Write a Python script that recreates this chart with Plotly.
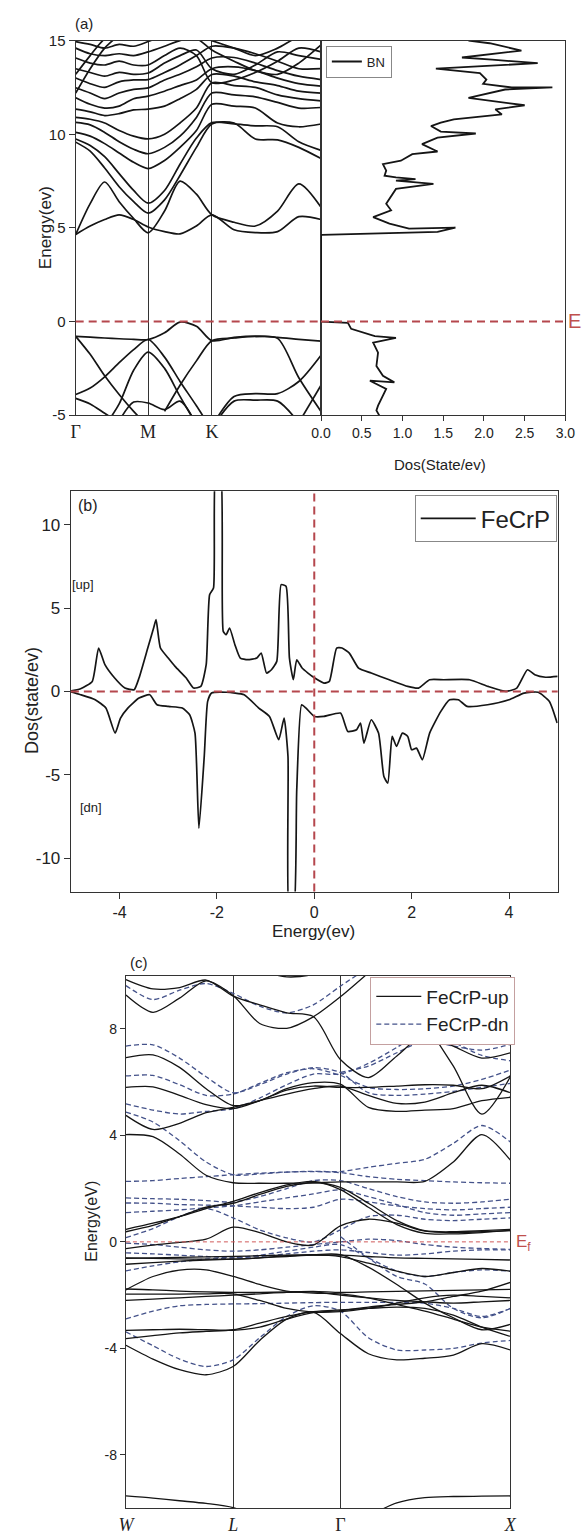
import plotly.graph_objects as go

# ---------------- (a) BN: band structure along Γ-M-K-Γ ----------------
BN_K = [0, 0.15, 0.30, 0.45, 0.60, 0.75, 0.92, 1.08, 1.25, 1.41, 1.64, 1.86, 2.09, 2.31, 2.54]
BN_KPOINTS = [0, 0.75, 1.41]
BN_KLABELS = ["Γ", "M", "K"]
BN_ETICKS = [-5, 0, 5, 10, 15]
BN_ETICKTEXT = ["-5", "0", "5", "10", "15"]
BN_DOSTICKS = [0, 0.5, 1.0, 1.5, 2.0, 2.5, 3.0]

BN_BANDS = [
    # valence bands
    [-0.79, -0.83, -0.88, -0.92, -0.95, -0.96, -0.6, -0.03, -0.25, -1.02, -0.85, -0.78, -0.85, -0.95, -1.05],
    [-0.79, -1.75, -2.9, -3.9, -4.8, -5.6, None, None, None, None, None, None, None, None, None],
    [-3.9, -3.55, -2.95, -2.2, -1.5, -0.96, -1.9, -3.2, -4.5, -5.8, None, None, None, None, None],
    [-4.1, -4.4, -4.9, -5.4, None, None, None, None, None, None, None, None, None, None, None],
    [None, None, -5.6, -4.4, -2.6, -1.63, -2.5, -4.0, -5.5, None, None, None, None, None, None],
    [None, None, None, None, None, None, -4.8, -3.4, -2.1, -1.02, -0.88, -0.8, -0.9, -3.0, -4.8],
    [None, None, None, -5.3, -4.3, -4.35, -4.7, -4.25, -5.5, None, None, None, None, None, None],
    [None, None, None, None, None, None, None, None, None, -5.6, -4.0, -3.85, -3.85, -3.2, -1.8],
    [None, None, None, None, None, None, None, None, None, -5.7, -4.25, -4.2, -4.25, -5.4, None],
    [None, None, None, None, None, None, None, None, None, None, None, None, None, -5.4, -3.4],
    # conduction bands
    [4.65, 5.1, 5.45, 5.7, 5.45, 5.05, 4.8, 4.68, 5.1, 5.7, 4.9, 4.75, 4.8, 5.6, 5.45],
    [4.65, 6.3, 7.45, 6.4, 5.5, 4.74, 5.9, 7.5, 6.8, 5.7, 5.3, 5.1, 5.9, 7.35, 6.1],
    [9.58, 9.1, 8.2, 7.2, 6.4, 5.79, 6.5, 7.8, 9.3, 10.55, 10.6, 9.75, 9.7, 9.3, 8.7],
    [9.75, 9.4, 8.8, 7.9, 7.0, 6.32, 7.0, 8.4, 9.8, 10.62, 10.55, 10.45, 10.4, 9.6, 9.14],
    [10.1, 9.9, 9.5, 9.0, 8.5, 8.17, 8.6, 9.3, 10.2, 11.6, 11.5, 11.4, 10.6, 10.4, 10.55],
    [10.63, 10.5, 10.1, 9.6, 9.2, 8.96, 9.3, 9.9, 10.9, 12.2, 12.1, 12.0, 11.7, 11.4, 11.43],
    [10.9, 10.8, 10.6, 10.2, 9.9, 9.75, 10.0, 10.6, 11.4, 12.75, 12.6, 12.5, 12.1, 11.9, 11.78],
    [11.34, 11.2, 11.0, 11.1, 11.3, 11.34, 11.5, 11.9, 12.4, 13.19, 13.1, 12.8, 12.6, 12.3, 12.2],
    [11.95, 11.6, 11.4, 11.5, 11.9, 12.04, 12.3, 12.6, 12.9, 13.5, 13.6, 13.4, 13.0, 12.7, 12.57],
    [12.48, 12.2, 11.9, 12.2, 12.4, 12.48, 12.9, 13.2, 13.6, 14.07, 14.1, 13.8, 13.4, 13.1, 12.92],
    [13.0, 12.7, 12.5, 12.8, 12.9, 12.92, 13.3, 13.7, 14.2, 14.7, 14.6, 14.3, 13.9, 13.5, 13.5],
    [13.5, 13.3, 13.1, 13.3, 13.2, 13.27, 13.8, 14.2, 14.5, 13.5, 13.2, 13.7, 14.4, 14.2, 14.0],
    [14.07, 13.8, 13.7, 13.9, 13.7, 13.7, 14.2, 14.6, 14.2, 12.75, 12.9, 13.3, 13.9, 14.6, 14.4],
    [14.6, 14.3, 14.2, 14.3, 14.2, 14.4, 14.7, 15.0, 15.1, 14.5, 13.9, 13.4, 13.2, 13.8, 14.77],
    [14.95, 14.8, 14.6, 14.8, 14.7, 14.95, 15.3, 15.5, 15.3, 15.0, 14.6, 14.2, 14.6, 15.2, 15.3],
    [13.2, 14.2, 15.1, 15.5, None, None, None, None, None, None, None, None, None, None, None],
    [12.2, 13.5, 14.6, 15.3, None, None, None, None, None, None, None, None, None, None, None],
]

# BN total density of states (energy, DOS)
BN_DOS_E = [15.0, 14.86, 14.47, 14.1, 13.98, 13.8, 13.5, 13.27, 12.92, 12.69,
            12.5, 12.5, 12.39, 11.94, 11.55, 11.33, 11.06, 10.8, 10.62, 10.44,
            10.14, 10.04, 9.82, 9.47, 9.08, 8.94, 8.59, 8.41, 8.06, 7.79,
            7.7, 7.61, 7.53, 7.35, 7.08, 6.29, 5.94, 5.58, 5.23, 4.96,
            5.02, 4.79, 4.63, 4.59, 0.0, -0.07, -0.39, -0.78, -0.87, -1.13,
            -1.66, -2.37, -2.9, -3.25, -3.16, -3.6, -4.49, -4.75, -5.05]
BN_DOS = [1.81, 2.07, 2.46, 1.73, 2.1, 2.66, 1.41, 1.95, 2.03, 1.99,
          2.34, 2.84, 2.26, 1.81, 2.5, 2.14, 2.22, 1.63, 1.47, 1.35,
          1.47, 1.9, 1.43, 1.24, 1.43, 1.12, 0.98, 0.76, 0.8, 0.78,
          0.92, 1.16, 0.92, 1.38, 0.92, 0.8, 0.86, 0.64, 0.84, 1.08,
          1.65, 1.43, 0.01, 0.0, 0.0, 0.33, 0.37, 0.66, 0.92, 0.64,
          0.7, 0.68, 0.76, 0.9, 0.6, 0.8, 0.7, 0.68, 0.72]

# ---------------- (b) FeCrP spin-resolved DOS ----------------
FE_ETICKS = [-4, -2, 0, 2, 4]
FE_ETICKTEXT = ["-4", "-2", "0", "2", "4"]
FE_DOSTICKS = [-10, -5, 0, 5, 10]
FE_DOSTICKTEXT = ["-10", "-5", "0", "5", "10"]

UP_E = [-5.04, -4.8, -4.56, -4.43, -4.3, -4.1, -3.89, -3.7, -3.6, -3.42,
        -3.3, -3.25, -3.16, -3.0, -2.86, -2.63, -2.48, -2.33, -2.22, -2.15,
        -2.07, -2.02, -1.93, -1.87, -1.81, -1.74, -1.63, -1.52, -1.37, -1.18,
        -1.09, -0.98, -0.88, -0.77, -0.68, -0.58, -0.51, -0.43, -0.36, -0.25,
        -0.13, 0.01, 0.2, 0.31, 0.46, 0.57, 0.72, 0.91, 1.17, 1.54,
        1.92, 2.14, 2.37, 2.66, 3.19, 3.57, 3.94, 4.16, 4.38, 4.53,
        4.75, 5.0]
UP_DOS = [0, 0.16, 0.6, 2.6, 1.6, 0.8, 0.2, 0.1, 0.8, 2.6,
          3.8, 4.3, 2.6, 2.0, 1.5, 0.8, 0.2, 0.3, 1.6, 5.8,
          6.2, 13.5, 13.5, 3.6, 3.4, 3.8, 2.8, 2.0, 1.9, 2.0,
          2.3, 1.1, 1.3, 1.8, 6.4, 6.3, 2.0, 0.7, 1.9, 1.4,
          1.1, 0.8, 0.5, 0.6, 2.6, 2.6, 2.3, 1.4, 1.1, 0.7,
          0.3, 0.2, 0.7, 0.7, 0.7, 0.3, 0.0, 0.2, 1.3, 1.0,
          0.85, 0.9]
DN_E = [-5.04, -4.8, -4.5, -4.28, -4.09, -3.98, -3.83, -3.6, -3.38, -3.23,
        -3.0, -2.71, -2.56, -2.45, -2.37, -2.26, -2.19, -2.11, -1.81, -1.44,
        -1.14, -0.92, -0.73, -0.62, -0.54, -0.51, -0.43, -0.36, -0.26, -0.17,
        0.0, 0.2, 0.54, 0.69, 0.87, 0.95, 1.02, 1.17, 1.32, 1.43,
        1.51, 1.6, 1.69, 1.81, 1.92, 2.0, 2.1, 2.22, 2.37, 2.6,
        2.78, 2.96, 3.14, 3.56, 4.0, 4.31, 4.6, 4.83, 4.99]
DN_DOS = [0, -0.2, -0.5, -1.0, -2.5, -1.6, -1.0, -0.4, -0.2, -0.8,
          -0.9, -1.0, -1.4, -2.5, -8.2, -3.9, -0.6, -0.1, -0.05, -0.2,
          -1.0, -1.5, -2.9, -1.6, -3.9, -13.5, -13.5, -5.9, -0.8, -1.0,
          -1.5, -1.5, -1.3, -2.4, -2.3, -1.9, -3.1, -1.7, -2.5, -5.1,
          -5.5, -2.7, -3.3, -2.5, -2.7, -3.5, -3.4, -4.1, -2.5, -1.2,
          -0.5, -0.5, -0.9, -0.8, -0.5, -0.1, -0.05, -0.6, -1.9]

# ---------------- (c) FeCrP spin-polarised bands along W-L-Γ-X ----------------
FE_K = [0, 0.28, 0.555, 0.83, 1.11, 1.385, 1.665, 1.94, 2.22, 2.51, 2.805, 3.095, 3.39, 3.685, 3.98]
FE_KPOINTS = [0, 1.11, 2.22, 3.98]
FE_KLABELS = ["<i>W</i>", "<i>L</i>", "Γ", "<i>X</i>"]
FE_BANDTICKS = [-8, -4, 0, 4, 8]
FE_BANDTICKTEXT = ["-8", "-4", "0", "4", "8"]

FE_UP_BANDS = [
    [-9.54, -9.62, -9.72, -9.82, -9.98, -10.4, None, None, None, -10.3, -9.8, -9.6, -9.56, -9.55, -9.54],
    [-3.88, -4.4, -4.8, -4.99, -4.68, -3.7, -2.9, -2.64, -3.44, -4.2, -4.43, -4.37, -4.25, -3.82, -4.06],
    [-3.32, -3.3, -3.28, -3.3, -3.32, -3.2, -2.9, -2.66, -2.58, -2.45, -2.35, -2.25, -2.05, -1.85, -1.52],
    [-3.63, -3.52, -3.42, -3.36, -3.3, -3.05, -2.8, -2.62, -2.55, -2.5, -2.45, -2.5, -2.75, -3.2, -3.55],
    [-0.62, -0.6, -0.58, -0.56, -0.55, -0.52, -0.5, -0.48, -0.48, -0.95, -1.6, -2.3, -2.85, -3.3, -3.1],
    [-1.77, -1.8, -1.85, -1.88, -1.9, -1.9, -1.88, -1.86, -1.9, -1.88, -1.86, -1.84, -1.82, -1.8, -1.78],
    [-1.96, -1.96, -1.96, -1.95, -1.95, -2.2, -2.5, -2.64, -2.62, -2.5, -2.3, -2.1, -2.0, -2.05, -2.1],
    [-2.2, -2.15, -2.1, -2.05, -2.0, -1.95, -1.9, -1.88, -2.0, -2.1, -2.2, -2.25, -2.3, -2.25, -2.2],
    [-1.8, -1.3, -1.06, -1.05, -1.3, -1.6, -1.85, -1.92, -1.95, -2.1, -2.35, -2.6, -2.9, -3.2, -3.35],
    [-0.6, -0.62, -0.64, -0.65, -0.65, -0.6, -0.52, -0.5, -0.5, -0.55, -0.6, -0.62, -0.64, -0.66, -0.68],
    [-0.84, -0.78, -0.72, -0.68, -0.65, -0.6, -0.55, -0.5, -0.55, -0.8, -1.1, -1.3, -1.15, -1.0, -1.1],
    [-0.25, -0.12, -0.02, 0.1, 0.55, 0.35, 0.0, -0.12, 0.6, 0.85, 0.7, 0.4, 0.35, 0.38, 0.42],
    [0.47, 0.7, 0.95, 1.25, 1.52, 1.85, 2.14, 2.27, 1.96, 1.3, 0.65, 0.32, 0.3, 0.35, 0.43],
    [0.38, 0.62, 0.95, 1.3, 1.45, 1.78, 2.08, 2.22, 2.05, 1.45, 0.8, 0.42, 0.38, 0.42, 0.47],
    [4.03, 3.95, 3.3, 2.5, 2.22, 2.2, 2.2, 2.22, 2.25, 2.25, 2.25, 2.27, 3.0, 4.03, 3.07],
    [6.92, 7.02, 6.55, 5.75, 5.12, 5.3, 5.75, 5.98, 5.92, 5.05, 4.9, 4.95, 5.0, 5.3, 5.43],
    [5.8, 5.82, 5.5, 5.15, 5.0, 5.3, 5.7, 5.85, 5.8, 5.8, 5.85, 5.9, 5.88, 5.75, 6.23],
    [4.75, 4.22, 4.45, 4.85, 5.05, 5.3, 5.55, 5.75, 5.85, 5.5, 5.2, 5.25, 5.6, 5.88, 5.6],
    [9.85, 9.5, 9.55, 9.83, 9.23, 8.9, 8.6, 8.46, 6.85, 6.17, 6.98, 7.78, 7.35, 6.9, 7.1],
    [9.27, 8.62, 9.15, 9.8, 9.25, 8.2, 8.02, 8.45, 9.2, 10.1, None, None, None, None, None],
    [None, None, None, None, None, None, None, None, None, None, 9.6, 8.2, 6.6, 4.8, 6.2],
    [None, None, None, None, 10.6, 10.2, 9.95, 10.05, 10.6, None, None, None, None, None, None],
]

FE_DN_BANDS = [
    [9.62, 9.1, 9.45, 9.7, 9.33, 8.85, 8.6, 8.9, 9.6, 10.3, None, None, None, None, None],
    [None, None, None, None, None, None, None, None, 6.36, 6.6, 7.1, 7.55, 7.35, 7.2, 7.41],
    [7.35, 7.4, 6.9, 6.2, 5.6, 5.9, 6.3, 6.54, 6.36, 5.6, 5.5, 5.55, 5.65, 5.8, 5.95],
    [6.23, 6.25, 5.9, 5.5, 5.55, 5.95, 6.35, 6.5, 6.25, 5.8, 5.72, 5.75, 5.85, 6.1, 6.45],
    [5.18, 4.95, 4.8, 4.9, 5.0, 5.4, 5.9, 6.3, 6.3, 6.7, 7.3, 7.9, 7.5, 7.0, 6.8],
    [4.87, 4.5, 3.8, 3.0, 2.52, 2.55, 2.62, 2.65, 2.64, 2.8, 2.95, 3.1, 3.7, 4.37, 3.75],
    [2.27, 2.3, 2.38, 2.45, 2.52, 2.58, 2.62, 2.64, 2.6, 2.45, 2.35, 2.3, 2.25, 2.22, 2.2],
    [1.65, 1.62, 1.6, 1.55, 1.5, 1.7, 2.0, 2.3, 2.3, 2.0, 1.7, 1.5, 1.45, 1.5, 1.6],
    [1.46, 1.45, 1.4, 1.38, 1.35, 1.3, 1.25, 1.3, 1.6, 1.5, 1.35, 1.25, 1.2, 1.25, 1.3],
    [1.1, 1.15, 1.2, 1.28, 1.35, 1.5, 1.65, 1.8, 1.95, 1.7, 1.4, 1.1, 1.0, 1.05, 1.1],
    [0.16, 0.5, 0.95, 1.25, 0.9, 0.45, 0.15, 0.0, 0.45, 0.95, 1.0, 0.85, 0.8, 0.85, 0.9],
    [-0.41, -0.45, -0.5, -0.55, -0.6, -0.55, -0.45, -0.35, -0.3, -0.4, -0.5, -0.45, -0.35, -0.3, -0.3],
    [-1.09, -0.9, -0.75, -0.65, -0.6, -0.5, -0.35, -0.2, -0.1, -0.6, -1.1, -1.3, -1.15, -1.05, -1.1],
    [-2.89, -2.6, -2.4, -2.35, -2.33, -2.32, -2.3, -2.28, -2.27, -2.27, -2.27, -2.3, -2.5, -2.8, -2.5],
    [-3.38, -3.9, -4.4, -4.68, -4.43, -3.6, -2.8, -2.4, -2.6, -3.6, -4.06, -4.06, -4.0, -3.8, -3.7],
    [None, None, None, None, None, None, None, None, 0.2, -0.6, -1.3, -1.58, -2.5, -2.85, -2.5],
    [-0.05, -0.1, -0.2, -0.3, -0.35, -0.3, -0.2, -0.1, 0.0, 0.1, 0.05, -0.1, -0.2, -0.25, -0.28],
]

SANS = "Liberation Sans, Arial, sans-serif"
SERIF = "Liberation Serif, Times New Roman, serif"
INK = "#151515"
FERMI = "#b5474d"
DN_COLOR = "#44528a"

fig = go.Figure()

# (a) band lines
for band in BN_BANDS:
    fig.add_trace(go.Scatter(x=BN_K, y=band, mode="lines", xaxis="x", yaxis="y",
                             line=dict(color=INK, width=1.7, shape="spline", smoothing=0.8),
                             connectgaps=False, showlegend=False, hoverinfo="skip"))
# (a) DOS
fig.add_trace(go.Scatter(x=BN_DOS, y=BN_DOS_E, mode="lines", name="BN", xaxis="x2", yaxis="y2",
                         line=dict(color=INK, width=1.8), legend="legend", showlegend=True))

# (b) spin-up / spin-down DOS
fig.add_trace(go.Scatter(x=UP_E, y=UP_DOS, mode="lines", name="FeCrP", xaxis="x3", yaxis="y3",
                         line=dict(color=INK, width=1.7, shape="spline", smoothing=0.5),
                         legend="legend2", showlegend=True))
fig.add_trace(go.Scatter(x=DN_E, y=DN_DOS, mode="lines", xaxis="x3", yaxis="y3",
                         line=dict(color=INK, width=1.7, shape="spline", smoothing=0.5),
                         showlegend=False))

# (c) spin-polarised bands
for i, band in enumerate(FE_DN_BANDS):
    fig.add_trace(go.Scatter(x=FE_K, y=band, mode="lines", xaxis="x4", yaxis="y4",
                             name="FeCrP-dn", legend="legend3", showlegend=(i == 0),
                             line=dict(color=DN_COLOR, width=1.3, dash="5px,3px",
                                       shape="spline", smoothing=0.8),
                             connectgaps=False, hoverinfo="skip"))
for i, band in enumerate(FE_UP_BANDS):
    fig.add_trace(go.Scatter(x=FE_K, y=band, mode="lines", xaxis="x4", yaxis="y4",
                             name="FeCrP-up", legend="legend3", showlegend=(i == 0),
                             line=dict(color=INK, width=1.3, shape="spline", smoothing=0.8),
                             connectgaps=False, hoverinfo="skip"))

box = dict(showline=True, mirror=True, linecolor="#333", linewidth=1.3, zeroline=False)

fig.update_layout(
    width=587, height=1535, autosize=False,
    margin=dict(l=0, r=0, t=0, b=0),
    paper_bgcolor="white", plot_bgcolor="white",
    font=dict(family=SANS, color="#222", size=14),
    legend=dict(x=327 / 587, y=1 - 37 / 1535, xanchor="left", yanchor="top",
                bgcolor="white", bordercolor="#888", borderwidth=1,
                font=dict(size=13, family=SANS), itemwidth=30, tracegroupgap=0),
    legend2=dict(x=419 / 587, y=1 - 492 / 1535, xanchor="left", yanchor="top",
                 bgcolor="white", bordercolor="#888", borderwidth=1,
                 font=dict(size=24, family=SANS), itemwidth=55),
    legend3=dict(x=373 / 587, y=1 - 979 / 1535, xanchor="left", yanchor="top",
                 bgcolor="white", bordercolor="#c4a0a0", borderwidth=1,
                 font=dict(size=19, family=SANS), itemwidth=45, traceorder="reversed"),
    # (a) bands
    xaxis=dict(domain=[68 / 587, 322 / 587], anchor="y", range=[0, 2.54],
               tickvals=BN_KPOINTS, ticktext=BN_KLABELS, ticks="",
               showgrid=True, gridcolor="#333", gridwidth=1.2,
               tickfont=dict(family=SERIF, size=18, color="#222"), **box),
    yaxis=dict(domain=[1 - 411 / 1535, 1 - 32 / 1535], anchor="x", range=[-5, 15],
               tickvals=BN_ETICKS, ticktext=BN_ETICKTEXT, ticks="outside", ticklen=6,
               tickwidth=1.3, tickcolor="#333", showgrid=False, tickfont=dict(size=15), **box),
    # (a) DOS
    xaxis2=dict(domain=[322 / 587, 575 / 587], anchor="y2", range=[0, 3.0],
                tickvals=BN_DOSTICKS, tickformat=".1f",
                ticks="outside", ticklen=5, tickwidth=1.3, tickcolor="#333",
                showgrid=False, tickfont=dict(size=14), **box),
    yaxis2=dict(domain=[1 - 411 / 1535, 1 - 32 / 1535], anchor="x2", range=[-5, 15],
                showticklabels=False, ticks="", showgrid=False, **box),
    # (b)
    xaxis3=dict(domain=[63 / 587, 567 / 587], anchor="y3", range=[-5, 5],
                tickvals=FE_ETICKS, ticktext=FE_ETICKTEXT, ticks="outside", ticklen=6,
                tickwidth=1.3, tickcolor="#333", showgrid=False, tickfont=dict(size=16), **box),
    yaxis3=dict(domain=[1 - 893 / 1535, 1 - 488 / 1535], anchor="x3", range=[-12, 12],
                tickvals=FE_DOSTICKS, ticktext=FE_DOSTICKTEXT, ticks="outside", ticklen=6,
                tickwidth=1.3, tickcolor="#333", showgrid=False, tickfont=dict(size=17), **box),
    # (c)
    xaxis4=dict(domain=[120 / 587, 518 / 587], anchor="y4", range=[0, 3.98],
                tickvals=FE_KPOINTS, ticktext=FE_KLABELS, ticks="",
                showgrid=True, gridcolor="#333", gridwidth=1.1,
                tickfont=dict(family=SERIF, size=18, color="#222"), **box),
    yaxis4=dict(domain=[1 - 1517 / 1535, 1 - 978 / 1535], anchor="x4", range=[-10, 10],
                tickvals=FE_BANDTICKS, ticktext=FE_BANDTICKTEXT, ticks="outside", ticklen=5,
                tickwidth=1.2, tickcolor="#333", showgrid=False, tickfont=dict(size=14), **box),
)

# Fermi level markers
fermi = dict(color=FERMI, width=2, dash="8px,5px")
fig.add_shape(type="line", xref="x domain", yref="y", x0=0, x1=1, y0=0, y1=0, line=fermi)
fig.add_shape(type="line", xref="x2 domain", yref="y2", x0=0, x1=1, y0=0, y1=0, line=fermi)
fig.add_shape(type="line", xref="x3 domain", yref="y3", x0=0, x1=1, y0=0, y1=0, line=fermi)
fig.add_shape(type="line", xref="x3", yref="y3 domain", x0=0, x1=0, y0=0, y1=1, line=fermi)
fig.add_shape(type="line", xref="x4 domain", yref="y4", x0=0, x1=1, y0=0, y1=0,
              line=dict(color="#d05a5a", width=1, dash="4px,3px"))


def label(text, px, py, size, angle=0, color="#222", anchor="center", family=SANS):
    fig.add_annotation(text=text, x=px / 587, y=1 - py / 1535, xref="paper", yref="paper",
                       showarrow=False, textangle=angle, xanchor=anchor, yanchor="middle",
                       font=dict(size=size, color=color, family=family))


label("(a)", 65, 15, 15, anchor="left")
label("Energy(ev)", 37, 221, 17, angle=-90)
label("Dos(State/ev)", 445, 461, 15)
label("E", 576, 316, 20, color="#c0504d", anchor="left")
label("(b)", 68, 502, 16, anchor="left")
label("[up]", 62, 582, 13, anchor="left")
label("[dn]", 70, 808, 13, anchor="left")
label("Dos(state/ev)", 23, 700, 18, angle=-90)
label("Energy(ev)", 314, 933, 17)
label("(c)", 122, 965, 15, anchor="left")
label("Energy(eV)", 85, 1227, 16, angle=-90)
label("E<sub>f</sub>", 522, 1249, 17, color="#c0504d", anchor="left")

fig.write_html("out.html")
